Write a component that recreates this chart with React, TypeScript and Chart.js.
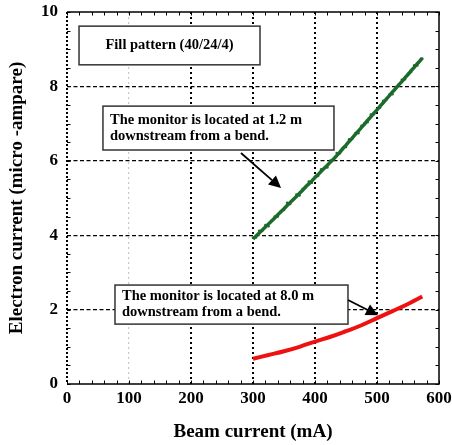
import { useEffect, useRef } from "react";
import { Chart, registerables } from "chart.js";

Chart.register(...registerables);

// ---- data ----
const greenX = [300, 305, 310, 315, 320, 325, 330, 335, 340, 345, 350, 355, 360, 365, 370, 375, 380, 385, 390, 395, 400, 405, 410, 415, 420, 425, 430, 435, 440, 445, 450, 455, 460, 465, 470, 475, 480, 485, 490, 495, 500, 505, 510, 515, 520, 525, 530, 535, 540, 545, 550, 555, 560, 565, 570, 573];
// trend of the 1.2 m monitor
const greenY = [3.9, 3.98, 4.06, 4.14, 4.22, 4.3, 4.38, 4.46, 4.55, 4.63, 4.71, 4.8, 4.88, 4.96, 5.04, 5.13, 5.21, 5.3, 5.38, 5.46, 5.55, 5.63, 5.72, 5.8, 5.88, 5.97, 6.05, 6.14, 6.23, 6.33, 6.42, 6.52, 6.61, 6.71, 6.8, 6.9, 6.99, 7.09, 7.18, 7.28, 7.37, 7.47, 7.56, 7.66, 7.75, 7.85, 7.94, 8.04, 8.13, 8.23, 8.32, 8.42, 8.51, 8.61, 8.7, 8.76];
// individual (noisy) samples of the 1.2 m monitor
const greenPtsY = [3.93, 3.94, 4.12, 4.12, 4.27, 4.24, 4.39, 4.5, 4.5, 4.65, 4.68, 4.87, 4.84, 4.96, 5.09, 5.07, 5.24, 5.28, 5.44, 5.41, 5.57, 5.59, 5.77, 5.81, 5.82, 6.01, 6.03, 6.21, 6.2, 6.34, 6.37, 6.58, 6.6, 6.74, 6.74, 6.94, 7.01, 7.04, 7.24, 7.25, 7.38, 7.43, 7.61, 7.64, 7.78, 7.79, 7.98, 8.03, 8.18, 8.19, 8.34, 8.39, 8.57, 8.56, 8.72, 8.75];
const redX = [300, 325, 350, 375, 400, 425, 450, 475, 500, 525, 550, 573];
const redY = [0.68, 0.78, 0.88, 1.0, 1.14, 1.27, 1.42, 1.58, 1.77, 1.96, 2.15, 2.35];

const xMin = 0, xMax = 600, xStep = 100, xMinor = 20;
const yMin = 0, yMax = 10, yStep = 2, yMinor = 0.5;

const xTitle = "Beam current (mA)";
const yTitle = "Electron current (micro -ampare)";

const noteFill = ["Fill pattern (40/24/4)"];
const noteNear = ["The monitor is located at 1.2 m", "downstream from a bend."];
const noteFar = ["The monitor is located at 8.0 m", "downstream from a bend."];

const FONT = '"Liberation Serif", "Times New Roman", Times, serif';
const GREEN = "#1c6b2b";

// annotation boxes in data coordinates
const boxes = [
  { x0: 19.4, x1: 311.3, y0: 9.62, y1: 8.58, lines: noteFill, center: true },
  { x0: 58, x1: 430.6, y0: 7.47, y1: 6.29, lines: noteNear, center: false },
  { x0: 77.4, x1: 453.2, y0: 2.66, y1: 1.61, lines: noteFar, center: false },
];
const arrows = [
  { fx: 280.6, fy: 6.21, tx: 345.2, ty: 5.27 },
  { fx: 453.2, fy: 2.26, tx: 501.6, ty: 1.85 },
];

const deco = {
  id: "deco",
  afterDraw(chart: any) {
    const { ctx, chartArea: a, scales } = chart;
    const xs = scales.x, ys = scales.y;
    ctx.save();
    // frame
    ctx.strokeStyle = "#000";
    ctx.lineWidth = 1.5;
    ctx.beginPath();
    ctx.moveTo(a.left, a.top);
    ctx.lineTo(a.right, a.top);
    ctx.lineTo(a.right, a.bottom);
    ctx.lineTo(a.left, a.bottom);
    ctx.stroke();
    ctx.setLineDash([2, 2]);
    ctx.lineWidth = 2;
    ctx.beginPath();
    ctx.moveTo(a.left, a.top);
    ctx.lineTo(a.left, a.bottom);
    ctx.stroke();
    ctx.setLineDash([]);
    // minor ticks
    ctx.lineWidth = 1;
    ctx.beginPath();
    for (let v = xMin; v <= xMax + 1e-6; v += xMinor) {
      const px = Math.round(xs.getPixelForValue(v)) + 0.5;
      ctx.moveTo(px, a.bottom);
      ctx.lineTo(px, a.bottom - 3.5);
      ctx.moveTo(px, a.top);
      ctx.lineTo(px, a.top + 3.5);
    }
    for (let v = yMin; v <= yMax + 1e-6; v += yMinor) {
      const py = Math.round(ys.getPixelForValue(v)) + 0.5;
      ctx.moveTo(a.left, py);
      ctx.lineTo(a.left + 3.5, py);
      ctx.moveTo(a.right, py);
      ctx.lineTo(a.right - 3.5, py);
    }
    ctx.stroke();
    // boxes
    ctx.font = "bold 14.5px " + FONT;
    ctx.textBaseline = "middle";
    for (const b of boxes) {
      const l = xs.getPixelForValue(b.x0), r = xs.getPixelForValue(b.x1);
      const t = ys.getPixelForValue(b.y0), btm = ys.getPixelForValue(b.y1);
      ctx.fillStyle = "#fff";
      ctx.fillRect(l, t, r - l, btm - t);
      ctx.strokeStyle = "#333";
      ctx.lineWidth = 1.5;
      ctx.strokeRect(l, t, r - l, btm - t);
      ctx.fillStyle = "#000";
      const cy = (t + btm) / 2;
      const lh = 16;
      b.lines.forEach((s: string, i: number) => {
        const yy = cy + (i - (b.lines.length - 1) / 2) * lh;
        if (b.center) {
          ctx.textAlign = "center";
          ctx.fillText(s, (l + r) / 2, yy);
        } else {
          ctx.textAlign = "left";
          ctx.fillText(s, l + 7, yy);
        }
      });
    }
    // arrows
    for (const ar of arrows) {
      const x1 = xs.getPixelForValue(ar.fx), y1 = ys.getPixelForValue(ar.fy);
      const x2 = xs.getPixelForValue(ar.tx), y2 = ys.getPixelForValue(ar.ty);
      const ang = Math.atan2(y2 - y1, x2 - x1);
      const hl = 12, hw = 6;
      const bx = x2 - hl * Math.cos(ang), by = y2 - hl * Math.sin(ang);
      ctx.strokeStyle = "#000";
      ctx.lineWidth = 1.8;
      ctx.beginPath();
      ctx.moveTo(x1, y1);
      ctx.lineTo(bx, by);
      ctx.stroke();
      ctx.fillStyle = "#000";
      ctx.beginPath();
      ctx.moveTo(x2, y2);
      ctx.lineTo(bx + hw * Math.sin(ang), by - hw * Math.cos(ang));
      ctx.lineTo(bx - hw * Math.sin(ang), by + hw * Math.cos(ang));
      ctx.closePath();
      ctx.fill();
    }
    ctx.restore();
  },
};

export default function App() {
  const ref = useRef<HTMLCanvasElement>(null);
  useEffect(() => {
    if (!ref.current) return;
    const chart = new Chart(ref.current, {
      type: "line",
      data: {
        datasets: [
          {
            label: "1.2 m samples",
            data: greenX.map((x, i) => ({ x, y: greenPtsY[i] })),
            borderColor: GREEN,
            backgroundColor: GREEN,
            showLine: false,
            pointRadius: 1.3,
            pointBorderWidth: 0,
          },
          {
            label: "1.2 m",
            data: greenX.map((x, i) => ({ x, y: greenY[i] })),
            borderColor: GREEN,
            backgroundColor: GREEN,
            borderWidth: 3.5,
            pointRadius: 0,
            tension: 0,
          },
          {
            label: "8.0 m",
            data: redX.map((x, i) => ({ x, y: redY[i] })),
            borderColor: "#ee1111",
            backgroundColor: "#ee1111",
            borderWidth: 4,
            pointRadius: 0,
            tension: 0.4,
          },
        ],
      },
      options: {
        responsive: false,
        animation: false,
        layout: { padding: { top: 12, right: 13, left: 0, bottom: 0 } },
        plugins: { legend: { display: false }, tooltip: { enabled: false } },
        scales: {
          x: {
            type: "linear",
            min: xMin,
            max: xMax,
            afterFit: (s: any) => { s.height = 61; s.paddingLeft = 0; s.paddingRight = 0; },
            ticks: { stepSize: xStep, color: "#000", font: { family: FONT, size: 17, weight: "bold" }, padding: 4, maxRotation: 0 },
            grid: {
              drawTicks: false,
              lineWidth: (c: any) => (c.tick && c.tick.value === 100 ? 1.2 : 2),
              color: (c: any) => {
                const v = c.tick ? c.tick.value : 0;
                if (v === xMin || v === xMax) return "rgba(0,0,0,0)";
                if (v === 100) return "#c8c8c8";
                return "#000";
              },
            },
            border: { display: false, dash: [2, 3] },
            title: { display: true, text: xTitle, color: "#000", font: { family: FONT, size: 19, weight: "bold" }, padding: { top: 0, bottom: 2 } },
          },
          y: {
            type: "linear",
            min: yMin,
            max: yMax,
            afterFit: (s: any) => { s.width = 67; s.paddingTop = 0; s.paddingBottom = 0; },
            ticks: { stepSize: yStep, color: "#000", font: { family: FONT, size: 17, weight: "bold" }, padding: 9 },
            grid: {
              drawTicks: false,
              lineWidth: 1.2,
              color: (c: any) => {
                const v = c.tick ? c.tick.value : 0;
                if (v === yMin || v === yMax) return "rgba(0,0,0,0)";
                return "#000";
              },
            },
            border: { display: false, dash: [4, 2.5] },
            title: { display: true, text: yTitle, color: "#000", font: { family: FONT, size: 19, weight: "bold" }, padding: { top: 6, bottom: 0 } },
          },
        },
      },
      plugins: [deco],
    } as any);
    return () => chart.destroy();
  }, []);
  return (
    <div style={{ position: "fixed", left: 0, top: 0, width: 452, height: 445, background: "#fff" }}>
      <canvas ref={ref} width={452} height={445} style={{ display: "block" }} />
    </div>
  );
}
